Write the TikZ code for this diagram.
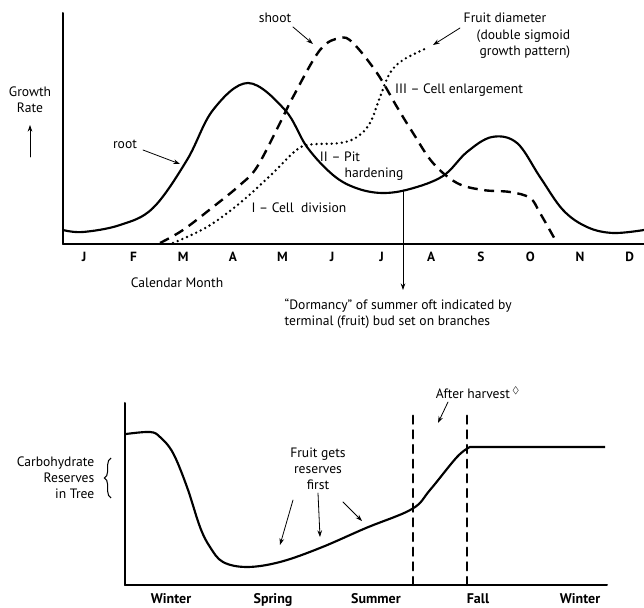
\documentclass[tikz,border=0pt]{standalone}
\usepackage{amssymb}
\usepackage{fontspec}
\setmainfont{PT Sans}
\usepackage{tkz-euclide}
\usetikzlibrary{arrows.meta,decorations.pathreplacing}

\begin{document}
\begin{tikzpicture}[x=0.75pt,y=0.75pt,
    font=\fontsize{10.2}{12}\selectfont,
    axisline/.style={line width=1.5pt},
    rootline/.style={line width=1.6pt},
    shootline/.style={line width=1.8pt,dash pattern=on 7.5pt off 5pt},
    fruitline/.style={line width=2pt,line cap=round,dash pattern=on 0pt off 3.8pt},
    harvestline/.style={line width=1.8pt,dash pattern=on 6pt off 5pt},
    pointer/.style={line width=0.6pt,-{Stealth[length=5pt,width=3.5pt]}},
    monthlbl/.style={font=\fontsize{10}{12}\selectfont\bfseries},
    seasonlbl/.style={font=\fontsize{10.5}{12}\selectfont\bfseries,inner sep=0pt}]
                    \useasboundingbox (0,0) rectangle (644,608);
                    % growth rate chart
                    \tkzDefPoints{63/364/O,63/595/Y,644/364/X}
                    \tkzDefPoints{30/451/g1,30/483/g2,293/581/s1,313/564/s2,143/458/r1,180/444/r2}
                    \tkzDefPoints{460/580/f1,433/563/f2,403/418/d1,403/318/d2}
                    \tkzDrawSegments[axisline](Y,O O,X)
                    \draw[rootline] plot[smooth,tension=0.6] coordinates {(63,378) (83,376) (120,383)
                        (153,400) (187,448) (213,498) (248,525) (285,498) (307,461) (333,433) (356,420)
                        (382,415) (410,419) (443,432) (467,456) (492,471) (517,465) (540,431) (563,398)
                        (587,381) (613,375) (644,378)};
                    \draw[shootline] plot[smooth,tension=0.6] coordinates {(160,365) (183,378) (213,401)
                        (240,423) (257,441) (280,485) (293,511) (320,558) (340,570) (353,565) (377,535)
                        (397,501) (413,475) (433,445) (457,425) (483,418) (510,416) (530,410) (540,395)
                        (557,365)};
                    \draw[fruitline] plot[smooth,tension=0.6] coordinates {(173,365) (207,381) (240,405)
                        (273,435) (293,455) (307,463) (340,465) (357,471) (370,485) (380,511) (390,535)
                        (403,548) (427,560)};
                    \foreach \m [count=\i] in {J,F,M,A,M,J,J,A,S,O,N,D}
                        \node[monthlbl] (m\i) at ({84+49.6*(\i-1)},351) {\m};
                    \node (calendar) at (177,325) {Calendar Month};
                    \node[align=center] (growth) at (30,508) {Growth\\Rate};
                    \node (shoot) at (275,590) {shoot};
                    \node (root) at (125,464) {root};
                    \node (fruit) at (505,590) {Fruit diameter};
                    \node[align=right,anchor=east] (sigmoid) at (575,564) {(double sigmoid\\growth pattern)};
                    \node (enlarge) at (459,518) {III -- Cell enlargement};
                    \node (pit) at (340,451) {II -- Pit};
                    \node (harden) at (374,434) {hardening};
                    \node (division) at (299,400) {I -- Cell\ \ division};
                    \node[align=left,anchor=west] (dormancy) at (280,294)
                        {“Dormancy” of summer oft indicated by\\terminal (fruit) bud set on branches};
                    \tkzDrawSegments[pointer](g1,g2 s1,s2 r1,r2 f1,f2 d1,d2)
                    % carbohydrate reserves chart
                    \tkzDefPoints{125/23/O2,125/205/Y2,607/23/X2}
                    \tkzDefPoints{413/23/v1,413/195/v2,467/23/v3,467/195/v4,111/110/c1,111/150/c2}
                    \tkzDefPoints{293/108/a1,280/63/a2,318/115/b1,320/71/b2,343/106/e1,362/87/e2,448/206/h1,438/185/h2}
                    \tkzDrawSegments[axisline](Y2,O2 O2,X2)
                    \tkzDrawSegments[harvestline](v1,v2 v3,v4)
                    \draw[rootline] plot[smooth,tension=0.6] coordinates {(126,174) (150,176) (160,171)
                        (173,155) (187,121) (200,81) (210,61) (223,46) (247,41) (280,46) (320,60) (366,80)
                        (412,99) (430,118) (457,151) (470,161)} -- (605,161);
                    \draw[line width=0.8pt,decorate,decoration={brace,amplitude=5pt}] (c1) -- (c2);
                    \node[align=right,anchor=east] (carbo) at (99,130) {Carbohydrate\\Reserves\\in Tree};
                    \node[align=center] (fgets) at (318,139) {Fruit gets\\reserves\\first};
                    \node (harvest) at (478,215) {After harvest\,$^{\lozenge}$};
                    \foreach \s/\x [count=\i] in {Winter/171,Spring/273,Summer/376,Fall/478,Winter/580}
                        \node[seasonlbl,anchor=base] (w\i) at (\x,4) {\s};
                    \tkzDrawSegments[pointer](a1,a2 b1,b2 e1,e2 h1,h2)
                \end{tikzpicture}
\end{document}
